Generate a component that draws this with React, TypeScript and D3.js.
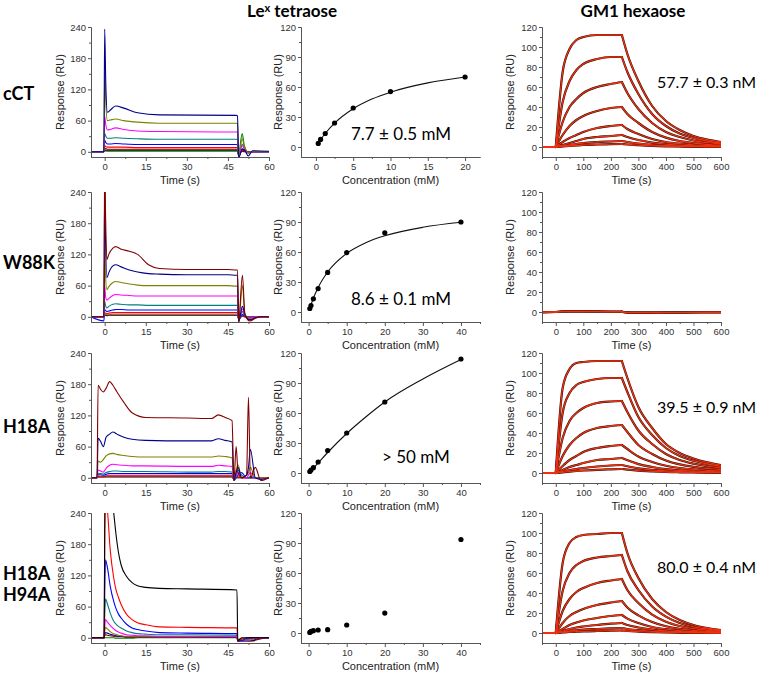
import React, { useEffect, useRef } from 'react';
import * as d3 from 'd3';

// ---- labels ----
const rowLabels = [['cCT'], ['W88K'], ['H18A'], ['H18A', 'H94A']];
const lexKd = ['7.7 ± 0.5 mM', '8.6 ± 0.1 mM', '> 50 mM', ''];
const gmKd = ['57.7 ± 0.3 nM', '', '39.5 ± 0.9 nM', '80.0 ± 0.4 nM'];

// ---- left column: Le^x sensorgrams (time s, response RU) ----
const tCCT = [-5, -0.3, 0, 0.4, 1, 2, 4, 7, 12, 20, 48, 48.5, 48.9, 50.2, 51, 52.4, 54, 60];
const sensCCT = [
  [0, 0, 236, 130, 76, 80, 88, 84, 75, 71, 70, 69, -12, 5, 4, -8, 2, 1],
  [0, 0, 155, 95, 60, 61, 63, 60, 57, 55, 55, 54, -10, 25, 10, -2, 1, 0],
  [0, 0, 68, 52, 42, 43, 46, 43, 40, 39, 38, 38, -10, 12, 5, -2, 0, 0],
  [0, 0, 35, 30, 26, 26, 27, 26, 25, 24, 24, 23, -10, 15, 6, -1, 0, 0],
  [0, 0, 22, 18, 15, 15, 16, 15, 14, 14, 14, 13, -10, 6, 2, -2, 0, 0],
  [0, 0, 12, 10, 9, 9, 9, 9, 8, 8, 8, 8, -8, 3, 1, 0, 0, 0],
  [0, 0, 7, 6, 5, 5, 5, 5, 5, 5, 5, 5, -6, 2, 1, 0, 0, 0],
  [0, 0, 4, 3, 3, 3, 3, 3, 3, 3, 3, 3, -5, 1, 0, 0, 0, 0],
  [0, 0, 2, 1.5, 1, 1, 1, 1, 1, 1, 1, 1, -4, 35, 12, 0, 0, 0],
];
const colorsCCT = ['#00008b', '#808000', '#ff00ff', '#008080', '#0000ff', '#ff0000', '#800000', '#000000', '#008000'];

const tW88K = [-5, -0.3, 0, 0.3, 0.8, 1.5, 3, 4, 6, 9, 12, 16, 20, 30, 45, 48, 48.5, 48.9, 50.3, 51.2, 53, 55, 57, 60];
const sensW88K = [
  [0, 0, 300, 200, 110, 120, 132, 135, 130, 126, 120, 100, 93, 91, 91, 90, 90, -10, 80, 5, -8, -3, 0, 0],
  [0, 0, 250, 150, 75, 85, 98, 100, 96, 90, 86, 83, 82, 81, 81, 80, 80, -10, 20, 5, -6, -2, 0, 0],
  [0, 0, 130, 80, 52, 58, 66, 68, 66, 63, 61, 60, 60, 60, 60, 59, 59, -10, 60, 5, -5, -2, 0, 0],
  [0, 0, 60, 40, 32, 35, 41, 43, 42, 41, 40, 40, 40, 40, 40, 40, 40, -8, 15, 3, -3, 0, 0, 0],
  [0, 0, 30, 22, 17, 20, 24, 25, 24, 23, 23, 22, 22, 22, 22, 22, 22, -8, 10, 2, -2, 0, 0, 0],
  [0, -8, 14, 12, 10, 11, 13, 14, 14, 13, 13, 13, 13, 13, 13, 13, 13, -6, 5, 1, -2, 0, 0, 0],
  [0, 0, 8, 7, 6, 7, 8, 8, 8, 8, 8, 8, 8, 8, 8, 8, 8, -5, 3, 0, -1, 0, 0, 0],
  [0, 0, 5, 4, 4, 4, 5, 5, 5, 5, 5, 5, 5, 5, 5, 5, 5, -4, 2, 0, 0, 0, 0, 0],
  [0, 0, 3, 3, 2, 3, 3, 3, 3, 3, 3, 3, 3, 3, 3, 3, 3, -3, 1, 0, 0, 0, 0, 0],
];
const colorsW88K = ['#800000', '#00008b', '#808000', '#ff00ff', '#008080', '#0000ff', '#ff0000', '#a0522d', '#000000'];

const tH18A = [-5, -2.8, -2.4, -1.5, -0.5, 0.5, 1.8, 3, 4.5, 7, 10, 15, 30, 39, 41.5, 44, 46.5, 47.2, 48, 48.7, 50, 51.8, 52.5, 53.2, 55, 57, 60];
const sensH18A = [
  [0, 0, 178, 170, 165, 172, 185, 178, 165, 145, 125, 116, 115, 114, 121, 116, 110, -5, 60, 10, 0, 5, 155, 0, 20, -5, 0],
  [0, 0, 76, 70, 60, 78, 84, 88, 84, 78, 74, 72, 71, 71, 75, 72, 69, -5, 10, 20, 0, 5, 20, 55, 0, -3, 0],
  [0, 0, 32, 30, 35, 42, 46, 47, 45, 43, 41, 40, 40, 40, 42, 41, 38, -5, 15, 25, 0, 5, 10, 20, 0, 0, 0],
  [0, 0, 15, 13, 11, 18, 24, 26, 25, 24, 23, 23, 22, 22, 24, 23, 22, -5, 5, 10, 0, 0, 5, 10, 0, 0, 0],
  [0, 0, 8, 8, 7, 10, 12, 13, 13, 12, 12, 12, 11, 11, 12, 12, 11, -5, 0, 15, 5, 0, 0, 3, 0, 0, 0],
  [0, 0, 6, 6, 5, 7, 8, 8, 8, 8, 8, 8, 8, 8, 8, 8, 8, -4, 0, 5, 10, 0, 0, 0, 0, 0, 0],
  [0, 0, 3, 3, 3, 4, 4, 4, 4, 4, 4, 4, 4, 4, 4, 4, 4, -3, 0, 2, 0, 0, 0, 0, 0, 0, 0],
  [0, 0, 2, 2, 2, 3, 3, 3, 3, 3, 3, 3, 3, 3, 3, 3, 3, -3, 0, 0, 0, 0, 0, 0, 0, 0, 0],
  [0, 0, 1, 1, 1, 1, 1, 1, 1, 1, 1, 1, 1, 1, 1, 1, 1, -2, 0, 0, 0, 0, 0, 0, 0, 0, 0],
];
const colorsH18A = ['#800000', '#00008b', '#808000', '#ff00ff', '#008080', '#0000ff', '#ff0000', '#800000', '#555555'];

const tH94A = [-5, -0.2, 0, 0.3, 1, 2, 3.3, 4, 5, 6, 8, 10, 12, 15, 20, 30, 48.3, 48.6, 50, 52, 54, 56, 60];
const sensH94A = [
  [0, 0, 200, 320, 330, 320, 240, 205, 165, 140, 118, 106, 100, 97, 95, 94, 92, -6, 0, 0, 0, 0, 0],
  [0, 0, 180, 270, 245, 170, 115, 95, 78, 64, 45, 35, 29, 25, 21, 20, 19, -6, -3, 0, 0, 0, 0],
  [0, 0, 80, 150, 135, 100, 70, 58, 46, 38, 26, 19, 16, 13, 10, 9, 8, -6, -5, -1, 0, 0, 0],
  [0, 0, 40, 75, 65, 48, 32, 27, 22, 19, 13, 10, 8, 7, 6, 6, 5, -6, -6, -3, 0, 0, 0],
  [0, 0, 20, 35, 30, 24, 17, 14, 11, 9, 6, 5, 4, 4, 3, 3, 3, -6, -6, -5, -1, 0, 0],
  [0, 0, 12, 20, 17, 12, 8, 7, 5, 4, 3, 3, 2, 2, 2, 2, 2, -6, -6, -6, -3, 0, 0],
  [0, 0, 6, 10, 9, 7, 5, 4, 3, 3, 2, 2, 2, 2, 2, 2, 1, -6, -6, -6, -5, -1, 0],
  [0, 0, 4, 6, 5, 4, 3, 2, 2, 2, 1, 1, 1, 1, 1, 1, 1, -6, -6, -6, -6, -3, 0],
  [0, 0, 0, 0, 0, 0, 0, -1, -1, -1, -1, -1, 0, 0, 0, 0, 0, -3, -2, -1, 0, 0, 0],
];
const colorsH94A = ['#000000', '#ff0000', '#0000ff', '#008080', '#ff00ff', '#808000', '#00008b', '#800000', '#008000'];

// ---- middle column: Le^x steady-state binding (mM, RU) ----
const lexConcCCT = [0.3125, 0.625, 1.25, 2.5, 5, 10, 20];
const lexRespCCT = [3.6, 7.6, 13.5, 24, 39, 55.4, 70];
const fitConcCCT = [0.3125, 0.625, 1.25, 2.5, 5, 7.5, 10, 15, 20];
const fitRespCCT = [3.8, 7.3, 13.5, 23.8, 38.2, 47.9, 54.8, 64.1, 70];

const lexConc = [0.3125, 0.625, 1.25, 2.5, 5, 10, 20, 40];
const lexRespW88K = [3.5, 6.5, 13.2, 23.4, 39.6, 59.4, 79.2, 90];
const fitConcW88K = [0.3125, 0.625, 1.25, 2.5, 5, 10, 15, 20, 30, 40];
const fitRespW88K = [3.8, 7.4, 13.8, 24.5, 40, 58.6, 69.3, 76.2, 84.7, 89.7];

const lexRespH18A = [1.5, 3, 5.3, 11, 22.5, 40, 71, 114];
const fitConcH18A = [0.3125, 1.25, 2.5, 5, 10, 15, 20, 30, 40];
const fitRespH18A = [1.2, 4.8, 10, 20.5, 39.5, 56, 71, 94, 113.5];

const lexRespH94A = [0.6, 1.6, 2.3, 3, 3.3, 8, 19.9, 93.5];

// ---- right column: GM1 hexaose sensorgrams (time s, response RU) ----
const tGM = [-50, 0, 25, 50, 75, 100, 150, 200, 240, 260, 300, 350, 400, 450, 500, 550, 600];
const gmCCT = [
  [0, 0, 75, 98, 107, 110, 112, 112, 112, 93, 66, 41, 26, 17, 11, 7.4, 5],
  [0, 0, 45, 66, 77, 83, 88, 90, 90, 75, 53, 33, 21, 13.5, 9, 6, 4],
  [0, 0, 25, 40, 48, 54, 60, 63, 65, 54, 38, 24, 15, 10, 6.5, 4.3, 3],
  [0, 0, 12, 21, 27, 31, 36, 39, 40, 33, 24, 15, 9.4, 6, 4, 2.6, 1.8],
  [0, 0, 5, 9, 12, 15, 19, 21, 22, 18, 13, 8, 5, 3.3, 2.2, 1.5, 1],
  [0, 0, 2, 4, 6, 8, 10, 11, 12, 10, 7, 4.4, 2.8, 1.8, 1.2, 0.8, 0.5],
  [0, 0, 1, 2, 3, 4, 5, 5.5, 6, 5, 3.5, 2.2, 1.4, 0.9, 0.6, 0.4, 0.3],
  [0, 0, 0.5, 1, 1.5, 2, 2.5, 2.8, 3, 2.5, 1.8, 1.1, 0.7, 0.5, 0.3, 0.2, 0.1],
];
const gmW88K = [
  [-0.3, 0, 0.6, 0.8, 0.8, 0.8, 0.7, 0.5, 0.3, -0.6, -0.8, -0.8, -0.7, -0.6, -0.5, -0.5, -0.4],
  [-0.2, 0, 0.3, 0.4, 0.4, 0.4, 0.3, 0.2, 0.1, -0.3, -0.4, -0.4, -0.4, -0.3, -0.3, -0.2, -0.2],
];
const gmH18A = [
  [0, 0, 85, 104, 110, 111, 112, 112, 112, 95, 66, 45, 29, 20, 14.5, 10.6, 7.8],
  [0, 0, 60, 80, 88, 91, 94, 95, 95, 81, 56, 38, 25, 17, 12.3, 9, 6.6],
  [0, 0, 35, 52, 60, 65, 70, 71.5, 72, 61, 42.5, 29, 19, 13, 9.4, 6.8, 5],
  [0, 0, 17, 28, 35, 40, 45, 47, 48, 41, 28, 19, 12.5, 8.6, 6.2, 4.6, 3.4],
  [0, 0, 7, 13, 17, 21, 25, 27, 28, 24, 16.5, 11, 7.3, 5, 3.6, 2.7, 2],
  [0, 0, 3, 6, 8, 10, 13, 14, 15, 12.8, 8.9, 6, 3.9, 2.7, 2, 1.4, 1],
  [0, 0, 1.5, 3, 4, 5, 6.5, 7.5, 8, 6.8, 4.7, 3.2, 2.1, 1.4, 1, 0.8, 0.6],
  [0, 0, 0.7, 1.4, 2, 2.5, 3.2, 3.7, 4, 3.4, 2.4, 1.6, 1, 0.7, 0.5, 0.4, 0.3],
];
const gmH94A = [
  [0, 0, 70, 90, 96, 98, 99, 100, 100, 80, 55, 34, 21, 13, 8, 5, 3],
  [0, 0, 42, 60, 68, 72, 75.5, 77, 78, 62, 43, 26.5, 16.4, 10, 6.2, 3.9, 2.3],
  [0, 0, 22, 34, 41, 45, 50, 52.5, 54, 43, 30, 18.4, 11.3, 7, 4.3, 2.7, 1.6],
  [0, 0, 10, 17, 21, 24, 28, 30.5, 32, 25.6, 17.6, 11, 6.7, 4.2, 2.6, 1.6, 1],
  [0, 0, 4, 8, 10.5, 12.5, 15, 17, 18, 14.4, 10, 6, 3.8, 2.3, 1.4, 0.9, 0.5],
  [0, 0, 2, 4, 5.5, 6.5, 8, 9.3, 10, 8, 5.5, 3.4, 2.1, 1.3, 0.8, 0.5, 0.3],
  [0, 0, 1, 2, 2.7, 3.3, 4, 4.6, 5, 4, 2.8, 1.7, 1, 0.7, 0.4, 0.3, 0.2],
  [0, 0, 0.5, 1, 1.3, 1.6, 2, 2.3, 2.5, 2, 1.4, 0.9, 0.5, 0.3, 0.2, 0.1, 0.1],
];

// ---- axis ticks ----
const sensXTicks = [0, 15, 30, 45, 60];
const sensYTicks = [0, 60, 120, 180, 240];
const lexXTicksCCT = [0, 5, 10, 15, 20];
const lexXTicks = [0, 10, 20, 30, 40];
const lexYTicks = [0, 30, 60, 90, 120];
const gmXTicks = [0, 100, 200, 300, 400, 500, 600];
const gmYTicks = [0, 20, 40, 60, 80, 100, 120];

const rowTop = [27, 192, 353, 513];
const plotH = 130;
const axisFont = 'Liberation Sans, Arial, sans-serif';
const textFont = 'Lato, Open Sans, sans-serif';

function App() {
  const ref = useRef<SVGSVGElement>(null);

  useEffect(() => {
    const svg = d3.select(ref.current);
    svg.selectAll('*').remove();

    const sensRows = [
      { t: tCCT, v: sensCCT, c: colorsCCT },
      { t: tW88K, v: sensW88K, c: colorsW88K },
      { t: tH18A, v: sensH18A, c: colorsH18A },
      { t: tH94A, v: sensH94A, c: colorsH94A },
    ];
    const lexRows = [
      { conc: lexConcCCT, resp: lexRespCCT, fc: fitConcCCT, fr: fitRespCCT, xmax: 22, ticks: lexXTicksCCT, step: 2.5 },
      { conc: lexConc, resp: lexRespW88K, fc: fitConcW88K, fr: fitRespW88K, xmax: 45, ticks: lexXTicks, step: 5 },
      { conc: lexConc, resp: lexRespH18A, fc: fitConcH18A, fr: fitRespH18A, xmax: 45, ticks: lexXTicks, step: 5 },
      { conc: lexConc, resp: lexRespH94A, fc: [], fr: [], xmax: 45, ticks: lexXTicks, step: 5 },
    ];
    const gmRows = [gmCCT, gmW88K, gmH18A, gmH94A];

    const defs = svg.append('defs');

    function drawAxes(g, x, y, xTicks, xMinor, yTicks, yMinor, xLabel, yLabelDx) {
      const [xa, xb] = x.range();
      const yb = y.range()[0];
      const yt = y.range()[1];
      const bm = g.append('g').attr('transform', `translate(0,${yb})`)
        .call(d3.axisBottom(x).tickValues(xMinor).tickSize(2).tickSizeOuter(0).tickFormat(() => ''));
      const bx = g.append('g').attr('transform', `translate(0,${yb})`)
        .call(d3.axisBottom(x).tickValues(xTicks).tickSize(4).tickPadding(2).tickSizeOuter(0));
      const lm = g.append('g').attr('transform', `translate(${xa},0)`)
        .call(d3.axisLeft(y).tickValues(yMinor).tickSize(2).tickSizeOuter(0).tickFormat(() => ''));
      const ly = g.append('g').attr('transform', `translate(${xa},0)`)
        .call(d3.axisLeft(y).tickValues(yTicks).tickSize(3).tickPadding(2).tickSizeOuter(0));
      [bm, bx, lm, ly].forEach((a) => {
        a.attr('font-family', axisFont).attr('font-size', 9.5);
        a.selectAll('path, line').attr('stroke', '#555');
        a.selectAll('text').attr('fill', '#333');
      });
      g.append('text')
        .attr('x', (xa + xb) / 2).attr('y', yb + 27)
        .attr('text-anchor', 'middle')
        .style('font-family', axisFont).style('font-size', '11px').style('fill', '#222')
        .text(xLabel);
      g.append('text')
        .attr('transform', `translate(${xa + yLabelDx},${(yb + yt) / 2}) rotate(-90)`)
        .attr('text-anchor', 'middle')
        .attr('dy', '0.35em')
        .style('font-family', axisFont).style('font-size', '11px').style('fill', '#222')
        .text('Response (RU)');
    }

    function minorTicks(lo, hi, step) {
      return d3.range(lo, hi + 1e-9, step);
    }

    rowTop.forEach((top, r) => {
      const bottom = top + plotH;

      // --- left: sensorgrams ---
      const xs = d3.scaleLinear().domain([-5, 60]).range([91, 269]);
      const ys = d3.scaleLinear().domain([-10, 240]).range([bottom, top]);
      const clipS = `clip-s-${r}`;
      defs.append('clipPath').attr('id', clipS).append('rect')
        .attr('x', 91).attr('y', top).attr('width', 269 - 91).attr('height', plotH);
      const gs = svg.append('g');
      const sr = sensRows[r];
      const lineS = d3.line<number>()
        .x((_, i) => xs(sr.t[i]))
        .y((d) => ys(d))
        .curve(d3.curveMonotoneX);
      const traceG = gs.append('g').attr('clip-path', `url(#${clipS})`);
      sr.v.slice().reverse().forEach((vals, k) => {
        const idx = sr.v.length - 1 - k;
        traceG.append('path')
          .attr('d', lineS(vals))
          .attr('fill', 'none')
          .attr('stroke', sr.c[idx])
          .attr('stroke-width', 1.1);
      });
      drawAxes(gs, xs, ys, sensXTicks, minorTicks(7.5, 52.5, 15), sensYTicks, minorTicks(30, 210, 60), 'Time (s)', -31);

      // --- middle: Le^x binding isotherm ---
      const lr = lexRows[r];
      const xl = d3.scaleLinear().domain([-2, lr.xmax]).range([301, 480]);
      const yl = d3.scaleLinear().domain([-10, 120]).range([bottom, top]);
      const gl = svg.append('g');
      if (lr.fc.length) {
        const fitLine = d3.line<number>()
          .x((d) => xl(d))
          .y((_, i) => yl(lr.fr[i]))
          .curve(d3.curveMonotoneX);
        gl.append('path')
          .attr('d', fitLine(lr.fc))
          .attr('fill', 'none')
          .attr('stroke', '#111')
          .attr('stroke-width', 1.1);
      }
      gl.selectAll('circle.pt')
        .data(lr.conc)
        .enter()
        .append('circle')
        .attr('cx', (d) => xl(d))
        .attr('cy', (_, i) => yl(lr.resp[i]))
        .attr('r', 2.6)
        .attr('fill', '#000');
      drawAxes(gl, xl, yl, lr.ticks, minorTicks(lr.step, lr.xmax, lr.step * 2), lexYTicks, minorTicks(15, 105, 30), 'Concentration (mM)', -23);
      if (lexKd[r]) {
        gl.append('text')
          .attr('x', r === 2 ? 382 : 351)
          .attr('y', [140, 305, 463, 0][r])
          .style('font-family', textFont).style('font-size', '17px').style('fill', '#000')
          .text(lexKd[r]);
      }

      // --- right: GM1 hexaose sensorgrams ---
      const xg = d3.scaleLinear().domain([-50, 600]).range([542, 721]);
      const yg = d3.scaleLinear().domain([-10, 120]).range([bottom, top]);
      const clipG = `clip-g-${r}`;
      defs.append('clipPath').attr('id', clipG).append('rect')
        .attr('x', 542).attr('y', top).attr('width', 721 - 542).attr('height', plotH);
      const gg = svg.append('g');
      const curvesG = gg.append('g').attr('clip-path', `url(#${clipG})`);
      const lineG = d3.line<[number, number]>()
        .x((d) => xg(d[0]))
        .y((d) => yg(d[1]))
        .curve(d3.curveMonotoneX);
      const phases = [[0, 1], [1, 8], [8, tGM.length - 1]];
      const segs: [number, number][][] = [];
      gmRows[r].forEach((vals) => {
        phases.forEach(([a, b]) => {
          const seg: [number, number][] = [];
          for (let i = a; i <= b; i++) seg.push([tGM[i], vals[i]]);
          segs.push(seg);
        });
      });
      segs.forEach((seg) => {
        curvesG.append('path').attr('d', lineG(seg)).attr('fill', 'none')
          .attr('stroke', '#2a0c06').attr('stroke-width', 2.2).attr('stroke-linecap', 'round');
      });
      segs.forEach((seg) => {
        curvesG.append('path').attr('d', lineG(seg)).attr('fill', 'none')
          .attr('stroke', '#f0300f').attr('stroke-width', 1.3).attr('stroke-linecap', 'round');
      });
      drawAxes(gg, xg, yg, gmXTicks, minorTicks(-50, 550, 100), gmYTicks, minorTicks(10, 110, 20), 'Time (s)', -32);
      if (gmKd[r]) {
        gg.append('text')
          .attr('x', 657)
          .attr('y', [88, 0, 413, 573][r])
          .style('font-family', textFont).style('font-size', '16px').style('fill', '#000')
          .text(gmKd[r]);
      }

      // --- row label ---
      const lab = svg.append('text')
        .style('font-family', textFont).style('font-weight', 'bold')
        .style('font-size', '18px').style('fill', '#000');
      const baselines = [[100], [269], [433], [580, 601]];
      rowLabels[r].forEach((s, j) => {
        lab.append('tspan').attr('x', 3).attr('y', baselines[r][j]).text(s);
      });
    });

    // column titles
    const t1 = svg.append('text')
      .attr('x', 247).attr('y', 17)
      .style('font-family', textFont).style('font-weight', 'bold')
      .style('font-size', '17px').style('fill', '#000');
    t1.append('tspan').text('Le');
    t1.append('tspan').attr('dy', -5).style('font-size', '11px').text('x');
    t1.append('tspan').attr('dy', 5).text(' tetraose');

    svg.append('text')
      .attr('x', 633).attr('y', 17)
      .attr('text-anchor', 'middle')
      .style('font-family', textFont).style('font-weight', 'bold')
      .style('font-size', '17px').style('fill', '#000')
      .text('GM1 hexaose');
  }, []);

  return (
    <svg
      ref={ref}
      width={760}
      height={673}
      style={{ position: 'absolute', left: 0, top: 0, background: '#fff' }}
    />
  );
}

export default App;
